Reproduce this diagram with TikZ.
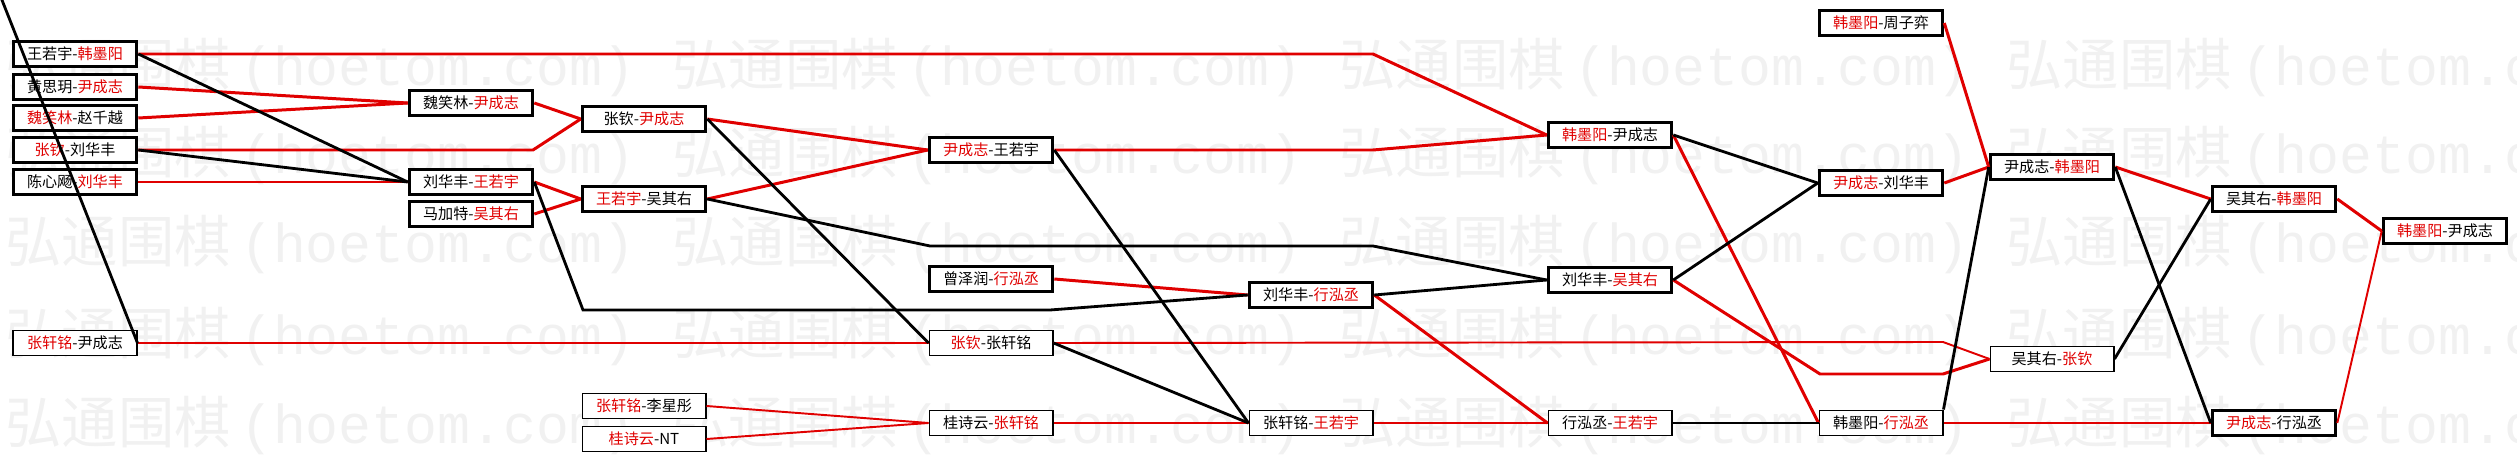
\documentclass[tikz,border=0pt]{standalone}
\usepackage{fontspec}
\setmainfont{Noto Sans CJK SC}
\newfontfamily\wmmono{Liberation Mono}
\usepackage{tikz}
\usetikzlibrary{calc}
\usepackage{xcolor}
\definecolor{winred}{HTML}{E00000}
\definecolor{wmgray}{HTML}{F1F1F1}
\newcommand{\redname}[1]{\textcolor{winred}{#1}}

\begin{document}
\begin{tikzpicture}[
    x=0.01cm, y=-0.01cm,
    every node/.style={font=\fontsize{4.3}{5}\selectfont},
    gm/.style={rectangle, draw, line width=1pt, minimum width=1.23cm,
               minimum height=0.25cm, inner sep=0pt, fill=white, align=center},
    gmt/.style={gm, line width=0.55pt},
    rl/.style={winred, line width=0.85pt},
    rlt/.style={winred, line width=0.55pt},
    bl/.style={black, line width=0.8pt},
    wm/.style={font=\fontsize{16}{16}\selectfont, text=wmgray, anchor=west, inner sep=0pt}
]
    \useasboundingbox (0,0) rectangle (2517,461);
    \begin{scope}
        \clip (0,0) rectangle (2517,461);
        \foreach \y in {68,156,245,337,426}
            \foreach \x in {5,672,1339,2006}
                \node[wm] (wm-\x-\y) at (\x,\y) {弘通围棋\,{\wmmono\fontsize{15.6}{16}\selectfont(hoetom.com)}};
    \end{scope}

    \node[gm]  (a1) at (75,54)   {王若宇-\redname{韩墨阳}};
    \node[gm]  (a2) at (75,87)   {黄思玥-\redname{尹成志}};
    \node[gm]  (a3) at (75,118)  {\redname{魏笑林}-赵千越};
    \node[gm]  (a4) at (75,150)  {\redname{张钦}-刘华丰};
    \node[gm]  (a5) at (75,182)  {陈心飏-\redname{刘华丰}};
    \node[gmt] (a6) at (75,343)  {\redname{张轩铭}-尹成志};

    \node[gm]  (b1) at (471,103) {魏笑林-\redname{尹成志}};
    \node[gm]  (b2) at (471,182) {刘华丰-\redname{王若宇}};
    \node[gm]  (b3) at (471,214) {马加特-\redname{吴其右}};

    \node[gm]  (c1) at (644,119) {张钦-\redname{尹成志}};
    \node[gm]  (c2) at (644,199) {\redname{王若宇}-吴其右};
    \node[gmt] (c3) at (644,406) {\redname{张轩铭}-李星彤};
    \node[gmt] (c4) at (644,439) {\redname{桂诗云}-NT};

    \node[gm]  (d1) at (991,150) {\redname{尹成志}-王若宇};
    \node[gm]  (d2) at (991,279) {曾泽润-\redname{行泓丞}};
    \node[gmt] (d3) at (991,343) {\redname{张钦}-张轩铭};
    \node[gmt] (d4) at (991,423) {桂诗云-\redname{张轩铭}};

    \node[gm]  (e1) at (1311,295) {刘华丰-\redname{行泓丞}};
    \node[gmt] (e2) at (1311,423) {张轩铭-\redname{王若宇}};

    \node[gm]  (f1) at (1610,135) {\redname{韩墨阳}-尹成志};
    \node[gm]  (f2) at (1610,280) {刘华丰-\redname{吴其右}};
    \node[gmt] (f3) at (1610,423) {行泓丞-\redname{王若宇}};

    \node[gm]  (g1) at (1881,23)  {\redname{韩墨阳}-周子弈};
    \node[gm]  (g2) at (1881,183) {\redname{尹成志}-刘华丰};
    \node[gmt] (g3) at (1881,423) {韩墨阳-\redname{行泓丞}};

    \node[gm]  (h1) at (2052,167) {尹成志-\redname{韩墨阳}};
    \node[gmt] (h2) at (2052,359) {吴其右-\redname{张钦}};

    \node[gm]  (i1) at (2274,199) {吴其右-\redname{韩墨阳}};
    \node[gm]  (i2) at (2274,423) {\redname{尹成志}-行泓丞};

    \node[gm]  (j1) at (2445,231) {\redname{韩墨阳}-尹成志};

    \coordinate (top) at (0,-5);

    \draw[rl] (a1.east) -- (1373,54) -- (f1.west);
    \draw[rl] (a2.east) -- (b1.west);
    \draw[rl] (a3.east) -- (b1.west);
    \draw[rl] (a4.east) -- (533,150) -- (c1.west);
    \draw[rl] (a5.east) -- (b2.west);
    \draw[rl] (b1.east) -- (c1.west);
    \draw[rl] (b2.east) -- (c2.west);
    \draw[rl] (b3.east) -- (c2.west);
    \draw[rl] (c1.east) -- (d1.west);
    \draw[rl] (c2.east) -- (d1.west);
    \draw[rl] (d1.east) -- (1373,150) -- (f1.west);
    \draw[rl] (d2.east) -- (e1.west);
    \draw[rl] (e1.east) -- (f3.west);
    \draw[rl] (f1.east) -- (g3.west);
    \draw[rl] (f2.east) -- (1820,374) -- (1943,374) -- (h2.west);
    \draw[rl] (g1.east) -- (h1.west);
    \draw[rl] (g2.east) -- (h1.west);
    \draw[rl] (h1.east) -- (i1.west);
    \draw[rl] (i1.east) -- (j1.west);

    \draw[rlt] (a6.east) -- (d3.west);
    \draw[rlt] (d3.east) -- (1943,342) -- (h2.west);
    \draw[rlt] (c3.east) -- (d4.west);
    \draw[rlt] (c4.east) -- (d4.west);
    \draw[rlt] (d4.east) -- (e2.west);
    \draw[rlt] (e2.east) -- (f3.west);
    \draw[rlt] (g3.east) -- (i2.west);
    \draw[rlt] (i2.east) -- (j1.west);

    \draw[bl] (top) -- (a6.east);
    \draw[bl] (a1.east) -- (b2.west);
    \draw[bl] (a4.east) -- (b2.west);
    \draw[bl] (b2.east) -- (583,310) -- (1050,310) -- (e1.west);
    \draw[bl] (c1.east) -- (d3.west);
    \draw[bl] (c2.east) -- (930,246) -- (1373,246) -- (f2.west);
    \draw[bl] (d1.east) -- (e2.west);
    \draw[bl] (d3.east) -- (e2.west);
    \draw[bl] (e1.east) -- (f2.west);
    \draw[bl] (f1.east) -- (g2.west);
    \draw[bl] (f2.east) -- (g2.west);
    \draw[bl] (f3.east) -- (g3.west);
    \draw[bl] (g3.north east) -- (h1.west);
    \draw[bl] (h1.east) -- (i2.west);
    \draw[bl] (h2.east) -- (i1.west);
\end{tikzpicture}
\end{document}
